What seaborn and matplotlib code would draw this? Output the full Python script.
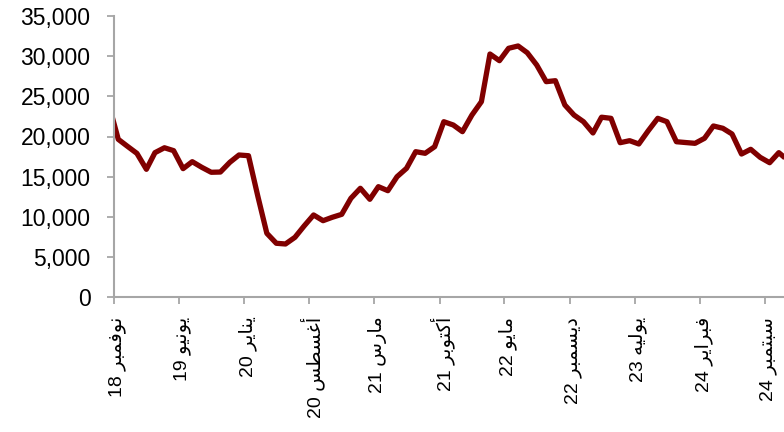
import matplotlib
matplotlib.use("Agg")
import matplotlib.pyplot as plt
import matplotlib.dates as mdates
import matplotlib.transforms as mtransforms
from matplotlib.ticker import FuncFormatter
import pandas as pd
import seaborn as sns

# ---- data ----
months = pd.date_range("2018-10-01", periods=74, freq="MS") + pd.Timedelta(days=14)
values = [
    24000, 19650, 18780, 17900, 15920, 17990, 18600, 18240, 16000, 16870,
    16170, 15550, 15580, 16790, 17700, 17610, 12500, 7960, 6720, 6630,
    7460, 8870, 10240, 9530, 9950, 10320, 12310, 13560, 12190, 13760,
    13260, 15000, 16040, 18110, 17910, 18730, 21840, 21430, 20600, 22670,
    24330, 30260, 29430, 30970, 31260, 30420, 28890, 26820, 26940, 23920,
    22670, 21840, 20440, 22400, 22260, 19230, 19480, 19070, 20720, 22260,
    21840, 19350, 19250, 19150, 19780, 21310, 21020, 20310, 17820, 18410,
    17410, 16740, 17990, 17000,
]
tick_dates = pd.date_range("2018-11-01", "2024-09-01", freq="7MS")
tick_labels = [
    "نوفمبر 18", "يونيو 19", "يناير 20", "أغسطس 20", "مارس 21", "أكتوبر 21",
    "مايو 22", "ديسمبر 22", "يوليه 23", "فبراير 24", "سبتمبر 24",
]
y_ticks = [0, 5000, 10000, 15000, 20000, 25000, 30000, 35000]

# ---- minimal Arabic shaping (presentation forms) for display ----
FORMS = {
    "ا": ("\uFE8D", "\uFE8E", None, None),
    "أ": ("\uFE83", "\uFE84", None, None),
    "ب": ("\uFE8F", "\uFE90", "\uFE91", "\uFE92"),
    "ت": ("\uFE95", "\uFE96", "\uFE97", "\uFE98"),
    "د": ("\uFEA9", "\uFEAA", None, None),
    "ر": ("\uFEAD", "\uFEAE", None, None),
    "س": ("\uFEB1", "\uFEB2", "\uFEB3", "\uFEB4"),
    "ط": ("\uFEC1", "\uFEC2", "\uFEC3", "\uFEC4"),
    "غ": ("\uFECD", "\uFECE", "\uFECF", "\uFED0"),
    "ف": ("\uFED1", "\uFED2", "\uFED3", "\uFED4"),
    "ك": ("\uFED9", "\uFEDA", "\uFEDB", "\uFEDC"),
    "ل": ("\uFEDD", "\uFEDE", "\uFEDF", "\uFEE0"),
    "م": ("\uFEE1", "\uFEE2", "\uFEE3", "\uFEE4"),
    "ن": ("\uFEE5", "\uFEE6", "\uFEE7", "\uFEE8"),
    "ه": ("\uFEE9", "\uFEEA", "\uFEEB", "\uFEEC"),
    "و": ("\uFEED", "\uFEEE", None, None),
    "ي": ("\uFEF1", "\uFEF2", "\uFEF3", "\uFEF4"),
}


def shape_word(word):
    out = []
    for i, ch in enumerate(word):
        if ch not in FORMS:
            out.append(ch)
            continue
        prev_j = i > 0 and word[i - 1] in FORMS and FORMS[word[i - 1]][2] is not None
        next_j = i < len(word) - 1 and word[i + 1] in FORMS and FORMS[ch][2] is not None
        iso, fin, ini, med = FORMS[ch]
        if prev_j and next_j:
            out.append(med)
        elif prev_j:
            out.append(fin)
        elif next_j:
            out.append(ini)
        else:
            out.append(iso)
    return "".join(out)


def visual(label):
    name, num = label.split(" ")
    return num + " " + shape_word(name)[::-1]


# ---- plot ----
sns.set_style("white")
plt.rcParams["font.family"] = ["Liberation Sans", "DejaVu Sans"]

df = pd.DataFrame({"date": months, "value": values})

fig = plt.figure(figsize=(7.84, 4.32), dpi=100)
ax = fig.add_axes([114 / 784, (432 - 297.3) / 432, (784 - 114) / 784, (297.3 - 15.9) / 432])

sns.lineplot(data=df, x="date", y="value", ax=ax, color="#800000", linewidth=3.8)
for ln in ax.get_lines():
    ln.set_solid_joinstyle("round")
    ln.set_solid_capstyle("butt")

ax.set_xlim(pd.Timestamp("2018-11-01"), pd.Timestamp("2024-11-01"))
ax.set_ylim(0, 35000)
ax.set_yticks(y_ticks)
ax.yaxis.set_major_formatter(FuncFormatter(lambda v, p: f"{v:,.0f}"))
ax.set_xticks(tick_dates)
ax.set_xticklabels([visual(t) for t in tick_labels], rotation=90)
ax.set_xlabel("")
ax.set_ylabel("")

for s in ["top", "right"]:
    ax.spines[s].set_visible(False)
for s in ["left", "bottom"]:
    ax.spines[s].set_color("#a6a6a6")
    ax.spines[s].set_linewidth(1.5)

ax.tick_params(axis="y", direction="out", length=5, width=1.3, color="#a6a6a6",
               pad=12, labelsize=16.5, labelcolor="black", left=True)
ax.tick_params(axis="x", direction="out", length=5, width=1.3, color="#a6a6a6",
               pad=9, labelsize=14, labelcolor="black", bottom=True)

offset = mtransforms.ScaledTranslation(3 / 100, 0, fig.dpi_scale_trans)
for lab in ax.get_xticklabels():
    lab.set_transform(lab.get_transform() + offset)

ax.grid(False)
fig.savefig("out.png", dpi=100)
